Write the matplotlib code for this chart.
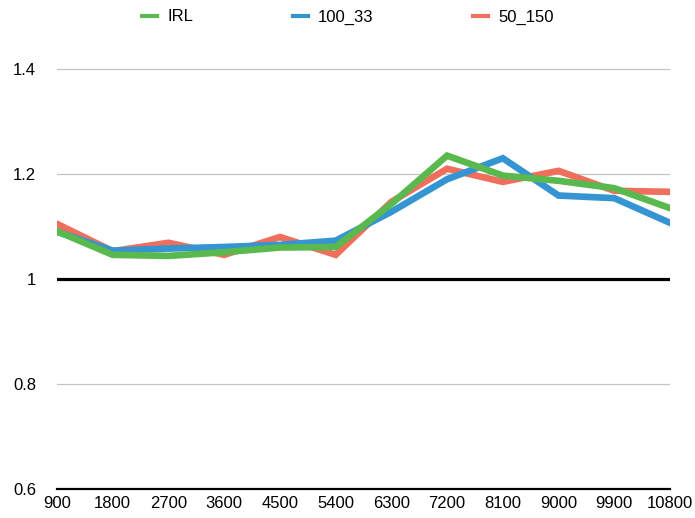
import numpy as np
import matplotlib
matplotlib.use("Agg")
from matplotlib import pyplot as plt

plt.rcParams['font.family'] = ['Liberation Sans', 'DejaVu Sans']

# x categories (seconds)
steps = ["900", "1800", "2700", "3600", "4500", "5400",
         "6300", "7200", "8100", "9000", "9900", "10800"]

# series
irl = [1.091, 1.046, 1.044, 1.051, 1.060, 1.061,
       1.143, 1.235, 1.197, 1.187, 1.173, 1.135]
r100_33 = [1.090, 1.054, 1.058, 1.061, 1.065, 1.073,
           1.128, 1.190, 1.230, 1.159, 1.154, 1.107]
r50_150 = [1.105, 1.053, 1.069, 1.046, 1.080, 1.046,
           1.147, 1.210, 1.185, 1.206, 1.168, 1.166]

yticks = [0.6, 0.8, 1.0, 1.2, 1.4]
ylabels = ["0.6", "0.8", "1", "1.2", "1.4"]

green = "#5ab94e"
blue = "#3594d2"
red = "#ef6f5c"

fig = plt.figure(figsize=(6.95, 5.18), dpi=100)
ax = fig.add_axes([57/695, 1-489/518, (670-57)/695, (489-30)/518])

x = np.arange(len(steps))

# grid lines
for v in yticks[1:]:
    if v == 1.0:
        ax.axhline(v, color="black", lw=2.3, zorder=2)
    else:
        ax.axhline(v, color="#c4c4c4", lw=0.9, zorder=1)

ax.plot(x, r50_150, color=red, lw=4.8, label="50_150", zorder=3, solid_joinstyle="miter")
ax.plot(x, r100_33, color=blue, lw=4.8, label="100_33", zorder=4, solid_joinstyle="miter")
ax.plot(x, irl, color=green, lw=4.8, label="IRL", zorder=5, solid_joinstyle="miter")

ax.set_xlim(0, len(steps) - 1)
ax.set_ylim(0.6, 0.6 + (489 - 30) / 525)
ax.set_xticks(x)
ax.set_xticklabels(steps, fontsize=12)
ax.set_yticks(yticks)
ax.set_yticklabels(ylabels, fontsize=12)
ax.tick_params(length=0)
ax.tick_params(axis="x", pad=5)
ax.tick_params(axis="y", pad=15)

for s in ["top", "right", "left"]:
    ax.spines[s].set_visible(False)
ax.spines["bottom"].set_linewidth(1.6)
ax.spines["bottom"].set_color("black")

handles, labels = ax.get_legend_handles_labels()
order = [2, 1, 0]
leg = fig.legend([handles[i] for i in order], [labels[i] for i in order],
                 loc="center", bbox_to_anchor=(348/695, 1-17/518), ncol=3,
                 frameon=False, fontsize=12, handlelength=0.9,
                 handletextpad=0.6, columnspacing=6.0)
for line in leg.get_lines():
    line.set_linewidth(3)

plt.savefig("out.png", dpi=100)
